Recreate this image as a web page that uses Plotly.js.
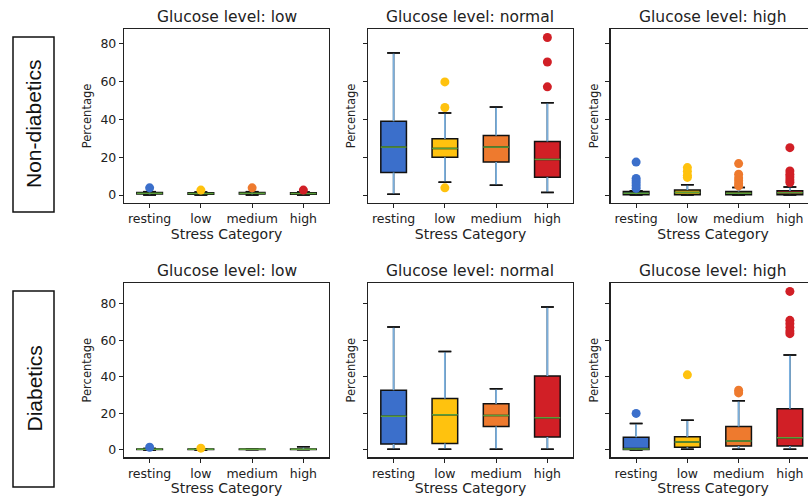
<!DOCTYPE html>
<html><head><meta charset="utf-8">
<script src="https://cdn.plot.ly/plotly-3.0.1.min.js"></script>
<style>html,body{margin:0;padding:0;overflow:hidden;background:#fff}#chart{width:816px;height:496px}</style>
</head><body><div id="chart"></div>
<script>
const categories = ['resting', 'low', 'medium', 'high'];
const glucoseLevels = ['low', 'normal', 'high'];
const groups = ['Non-diabetics', 'Diabetics'];
const colors = ['#3B6FCB', '#FFC20E', '#EE7A2E', '#D11F26'];

// panel order: Non-diabetics low/normal/high, Diabetics low/normal/high
const q1 = [
  [0.5, 0.4, 0.5, 0.4],
  [11.9, 19.9, 17.4, 9.4],
  [0.2, 0.2, 0.2, 0.2],
  [0.2, 0.2, 0.3, 0.3],
  [3.3, 3.5, 12.9, 7.1],
  [0.3, 1.5, 2.2, 2.2]
];
const medians = [
  [0.9, 0.8, 0.9, 0.8],
  [25.3, 24.6, 25.3, 18.8],
  [1.0, 1.4, 1.0, 1.2],
  [0.4, 0.4, 0.4, 0.4],
  [18.5, 19.3, 18.9, 17.6],
  [0.6, 4.4, 4.9, 6.7]
];
const q3 = [
  [1.3, 1.2, 1.3, 1.2],
  [38.9, 29.7, 31.4, 28.3],
  [1.9, 2.6, 1.9, 2.3],
  [0.6, 0.5, 0.5, 0.6],
  [32.7, 28.2, 25.3, 40.5],
  [6.9, 7.3, 12.9, 22.5]
];
const lowerWhisker = [
  [0, 0, 0, 0],
  [0.4, 6.8, 5.2, 1.4],
  [0, 0, 0, 0],
  [0, 0, 0.1, 0.1],
  [0.4, 0.4, 0.4, 0.4],
  [0, 0.4, 0.4, 0.4]
];
const upperWhisker = [
  [1.8, 1.6, 1.8, 1.6],
  [75.0, 43.3, 46.4, 48.7],
  [2.3, 5.4, 4.0, 4.3],
  [0.8, 0.7, 0.6, 1.7],
  [67.3, 53.8, 33.5, 78.2],
  [14.5, 16.2, 26.9, 52.0]
];
const outliers = [
  [[3.8], [2.6], [3.8], [2.6]],
  [[], [59.7, 46.2, 3.8], [], [83.1, 70.2, 57.1]],
  [[17.4, 8.7, 7.5, 6.3, 4.9, 3.5], [14.5, 12.5, 10.5, 9.3], [16.6, 11.0, 9.0, 7.5, 6.0, 4.8], [25.0, 12.7, 11.0, 9.5, 8.0, 6.6]],
  [[1.5], [1.0], [], []],
  [[], [], [], []],
  [[20.0], [41.1], [32.7, 31.2], [86.7, 70.9, 69.0, 67.0, 65.0, 63.6]]
];
const yTicks = [0, 20, 40, 60, 80];
const yRanges = [[-4.2, 87.6], [-4.0, 91.3]];

const W = 816, H = 496;
const panelLeft = [124, 368, 610.5];
const panelWidth = 205;
const rowTop = [29, 283];
const rowHeight = [174, 174.3];

const whiskerColor = '#7AAFDD';
const medianColor = '#5A9E3A';
const font = 'DejaVu Sans, sans-serif';
const ink = '#222';

const traces = [];
const layout = {
  width: W, height: H,
  margin: {l: 0, r: 0, t: 0, b: 0},
  paper_bgcolor: '#fff', plot_bgcolor: '#fff',
  showlegend: false,
  boxmode: 'overlay',
  font: {family: font, color: ink},
  annotations: [],
  shapes: []
};

for (let p = 0; p < 6; p++) {
  const row = Math.floor(p / 3), col = p % 3;
  const sfx = p === 0 ? '' : String(p + 1);
  const xa = 'x' + sfx, ya = 'y' + sfx;
  const x0 = panelLeft[col], x1 = x0 + panelWidth;
  const yT = rowTop[row], yB = yT + rowHeight[row];
  layout['xaxis' + sfx] = {
    domain: [x0 / W, x1 / W], anchor: ya,
    range: [0.5, 4.5], tickvals: [1, 2, 3, 4], ticktext: categories,
    ticks: 'outside', ticklen: 4, tickcolor: ink, tickwidth: 1,
    showline: true, mirror: true, linecolor: ink, linewidth: 1.2,
    showgrid: false, zeroline: false,
    tickfont: {size: 12.5, family: font, color: ink},
    title: {text: 'Stress Category', font: {size: 14, family: font, color: ink}, standoff: 1}
  };
  layout['yaxis' + sfx] = {
    domain: [1 - yB / H, 1 - yT / H], anchor: xa,
    range: yRanges[row], tickvals: yTicks,
    ticks: 'outside', ticklen: 4, tickcolor: ink, tickwidth: 1,
    showticklabels: col === 0,
    showline: true, mirror: true, linecolor: ink, linewidth: 1.2,
    showgrid: false, zeroline: false,
    tickfont: {size: 12.5, family: font, color: ink},
    title: {text: 'Percentage', font: {size: 11.5, family: font, color: ink}, standoff: col === 0 ? 6 : 4}
  };
  layout.annotations.push({
    text: 'Glucose level: ' + glucoseLevels[col],
    xref: 'paper', yref: 'paper',
    x: (x0 + panelWidth / 2) / W, y: 1 - (yT - 12) / H,
    xanchor: 'center', yanchor: 'middle', showarrow: false,
    font: {size: 15.5, family: font, color: ink}
  });

  for (let c = 0; c < 4; c++) {
    const pos = c + 1;
    traces.push({
      type: 'box', xaxis: xa, yaxis: ya,
      x: [pos], q1: [q1[p][c]], median: [medians[p][c]], q3: [q3[p][c]],
      lowerfence: [lowerWhisker[p][c]], upperfence: [upperWhisker[p][c]],
      width: 0.5, whiskerwidth: 0.5,
      fillcolor: colors[c], line: {color: '#111', width: 1.5},
      boxpoints: false, hoverinfo: 'skip', name: categories[c]
    });
    // whiskers in light blue
    traces.push({
      type: 'scatter', mode: 'lines', xaxis: xa, yaxis: ya,
      x: [pos, pos, null, pos, pos],
      y: [q3[p][c], upperWhisker[p][c], null, lowerWhisker[p][c], q1[p][c]],
      line: {color: whiskerColor, width: 1.8}, hoverinfo: 'skip', connectgaps: false
    });
    // caps
    traces.push({
      type: 'scatter', mode: 'lines', xaxis: xa, yaxis: ya,
      x: [pos - 0.125, pos + 0.125, null, pos - 0.125, pos + 0.125],
      y: [upperWhisker[p][c], upperWhisker[p][c], null, lowerWhisker[p][c], lowerWhisker[p][c]],
      line: {color: '#111', width: 1.5}, hoverinfo: 'skip'
    });
    // median in green
    traces.push({
      type: 'scatter', mode: 'lines', xaxis: xa, yaxis: ya,
      x: [pos - 0.25, pos + 0.25], y: [medians[p][c], medians[p][c]],
      line: {color: medianColor, width: 1.5}, hoverinfo: 'skip'
    });
    if (outliers[p][c].length) {
      traces.push({
        type: 'scatter', mode: 'markers', xaxis: xa, yaxis: ya,
        x: outliers[p][c].map(() => pos), y: outliers[p][c],
        marker: {color: colors[c], size: 9, line: {width: 0}}, hoverinfo: 'y'
      });
    }
  }
}

// row labels in boxes
const rowBoxes = [[13, 37, 54, 212], [13, 291, 54, 487]];
for (let r = 0; r < 2; r++) {
  const b = rowBoxes[r];
  layout.shapes.push({
    type: 'rect', xref: 'paper', yref: 'paper',
    x0: b[0] / W, x1: b[2] / W, y0: 1 - b[3] / H, y1: 1 - b[1] / H,
    line: {color: '#111', width: 1.5}, fillcolor: 'rgba(0,0,0,0)'
  });
  layout.annotations.push({
    text: groups[r], textangle: -90,
    xref: 'paper', yref: 'paper',
    x: (b[0] + b[2]) / 2 / W, y: 1 - (b[1] + b[3]) / 2 / H,
    xanchor: 'center', yanchor: 'middle', showarrow: false,
    font: {size: 21, family: 'Liberation Sans, Arial, sans-serif', color: '#111'}
  });
}

Plotly.newPlot('chart', traces, layout, {displayModeBar: false, staticPlot: true});
</script></body></html>
